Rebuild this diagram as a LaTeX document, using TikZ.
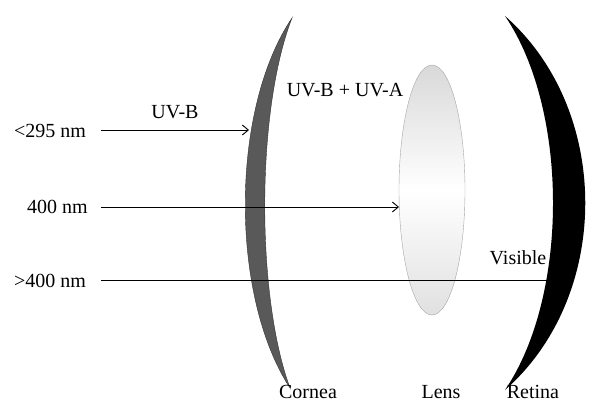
\documentclass[tikz,border=0pt]{standalone}
\usepackage{fontspec}
\setmainfont{Liberation Serif}
\usetikzlibrary{arrows.meta,shapes.geometric}
\begin{document}
\begin{tikzpicture}[x=1pt,y=-1pt,
  lbl/.style={font=\fontsize{20}{22}\selectfont, inner sep=0pt},
  ray/.style={-{Straight Barb[length=6pt,width=10pt]}, line width=0.9pt}]
\useasboundingbox (0,0) rectangle (609,406);
\clip (0,0) rectangle (609,406);
% cornea
\fill[black!65, draw=black!80] (292,18) .. controls (230,110) and (230,296) .. (290,388) .. controls (256,296) and (256,110) .. (292,18) -- cycle;
% lens
\node (lens) [ellipse, minimum width=66pt, minimum height=250pt, draw=black!35, shading=axis, top color=black!15, bottom color=black!12, middle color=white] at (432,190) {};
% retina
\fill[black] (505,16) .. controls (612,110) and (612,296) .. (505,390) .. controls (569,296) and (569,110) .. (505,16) -- cycle;
% labels
\node[lbl, anchor=west] (l1) at (14,131) {<295 nm};
\node[lbl, anchor=west] (l2) at (27,207) {400 nm};
\node[lbl, anchor=west] (l3) at (14,281) {>400 nm};
\coordinate (s1) at (101,130); \coordinate (e1) at (249,130);
\coordinate (s2) at (101,207); \coordinate (e2) at (399,207);
\coordinate (s3) at (101,280); \coordinate (e3) at (556,280);
\draw[ray] (s1) -- (e1);
\draw[ray] (s2) -- (e2);
\draw[ray] (s3) -- (e3);
\node[lbl] (uvb) at (175,112) {UV-B};
\node[lbl] (uvba) at (345,90) {UV-B + UV-A};
\node[lbl] (vis) at (518,258) {Visible};
\node[lbl, anchor=north] (c) at (308,385) {Cornea};
\node[lbl, anchor=north] (le) at (441,385) {Lens};
\node[lbl, anchor=north] (r) at (533,385) {Retina};
\end{tikzpicture}
\end{document}
